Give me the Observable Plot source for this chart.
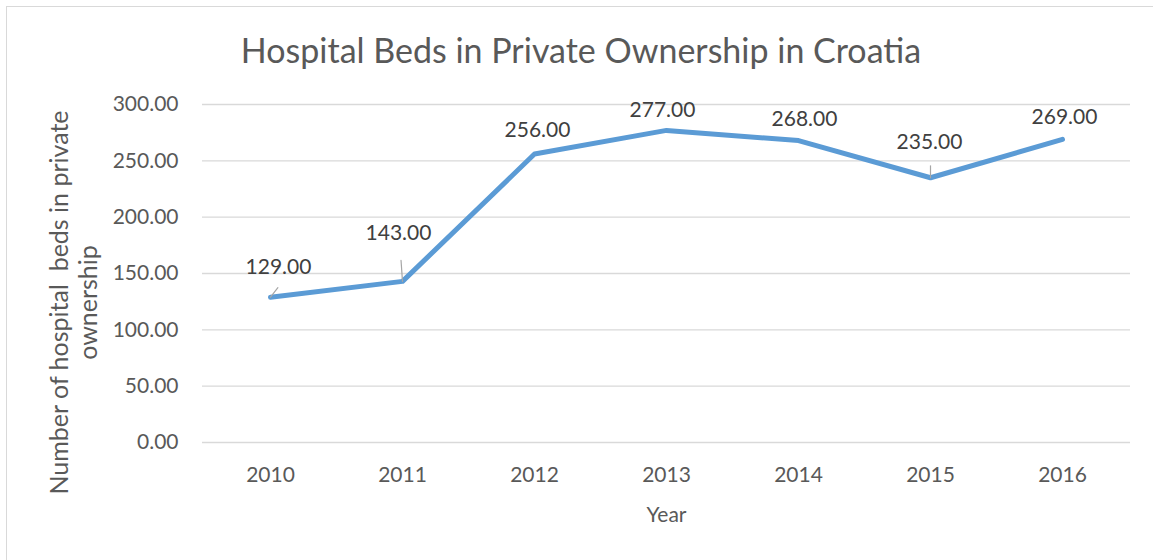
<!DOCTYPE html>
<html>
<head>
<meta charset="utf-8">
<script src="https://cdn.jsdelivr.net/npm/d3@7"></script>
<script src="https://cdn.jsdelivr.net/npm/@observablehq/plot@0.6"></script>
<style>
  body { margin: 0; background: #fff; }
  #wrap { position: relative; width: 1153px; height: 560px; overflow: hidden; background: #fff; font-family: Lato, "Open Sans", sans-serif; }
  #frame { position: absolute; left: 6px; top: 6px; right: -10px; bottom: -10px; border: 1px solid #d9d9d9; pointer-events: none; }
  #title { box-sizing: border-box; height: 82px; padding-top: 31px; padding-left: 9px; line-height: 38px; font-size: 34px; color: #595959; text-align: center; }
  #chart svg { display: block; }
</style>
</head>
<body>
<div id="wrap">
  <div id="frame"></div>
  <div id="title"></div>
  <div id="chart"></div>
</div>
<script>
const chartTitle = "Hospital Beds in Private Ownership in Croatia";
const years = [2010, 2011, 2012, 2013, 2014, 2015, 2016];
const beds = [129, 143, 256, 277, 268, 235, 269];
const yTicks = [0, 50, 100, 150, 200, 250, 300];
const yTitle = "Number of hospital  beds in private\nownership";
const xTitle = "Year";
// label placement (pixels) relative to each point, as in the reference
const labelDx = [8, -4, 3, -4, 6, -1, 2];
const labelDy = [-30, -48, -24, -20, -21, -35, -22];
// leader lines: year, length (px), rotation (deg)
const leaderYears = [2010, 2011, 2015];
const leaderLength = [16, 28, 16];
const leaderRotate = [38, -4, 0];

document.getElementById("title").textContent = chartTitle;

const data = years.map((y, i) => ({year: y, value: beds[i], dx: labelDx[i], dy: labelDy[i]}));
const leaders = leaderYears.map((y, i) => ({year: y, value: beds[years.indexOf(y)], length: leaderLength[i], rotate: leaderRotate[i]}));

const lineShape = {draw(context, l) { context.moveTo(0, 0); context.lineTo(0, -l); }};

const labelMarks = data.map(d => Plot.text([d], {
  x: "year", y: "value", text: v => v.value.toFixed(2),
  dx: d.dx, dy: d.dy, fontSize: 21, fill: "#404040", lineAnchor: "middle"
}));

const chart = Plot.plot({
  width: 1153,
  height: 478,
  marginLeft: 202,
  marginRight: 23,
  marginTop: 22,
  marginBottom: 118,
  style: {fontFamily: "Lato, 'Open Sans', sans-serif", color: "#595959", background: "transparent"},
  x: {type: "point", domain: years, padding: 0.5},
  y: {domain: [0, 300]},
  marks: [
    Plot.ruleY(yTicks, {stroke: "#d9d9d9", strokeWidth: 1.3}),
    Plot.axisY({ticks: yTicks, tickFormat: d => d.toFixed(2), tickSize: 0, tickPadding: 24, fontSize: 21, label: null}),
    Plot.axisX({tickSize: 0, tickPadding: 25, fontSize: 21, label: null, tickFormat: d => String(d)}),
    Plot.line(data, {x: "year", y: "value", stroke: "#5b9bd5", strokeWidth: 5, strokeLinecap: "round", strokeLinejoin: "round"}),
    Plot.vector(leaders, {x: "year", y: "value", length: "length", rotate: "rotate", anchor: "start", shape: lineShape, stroke: "#a6a6a6", strokeWidth: 1.2}),
    ...labelMarks,
    Plot.text([yTitle], {frameAnchor: "left", rotate: -90, dx: -129, dy: 29, fontSize: 25, fill: "#595959", lineAnchor: "middle", textAnchor: "middle", lineHeight: 1.15}),
    Plot.text([xTitle], {frameAnchor: "bottom", dy: 73, fontSize: 21, fill: "#595959", lineAnchor: "middle"})
  ]
});
document.getElementById("chart").appendChild(chart);
</script>
</body>
</html>
